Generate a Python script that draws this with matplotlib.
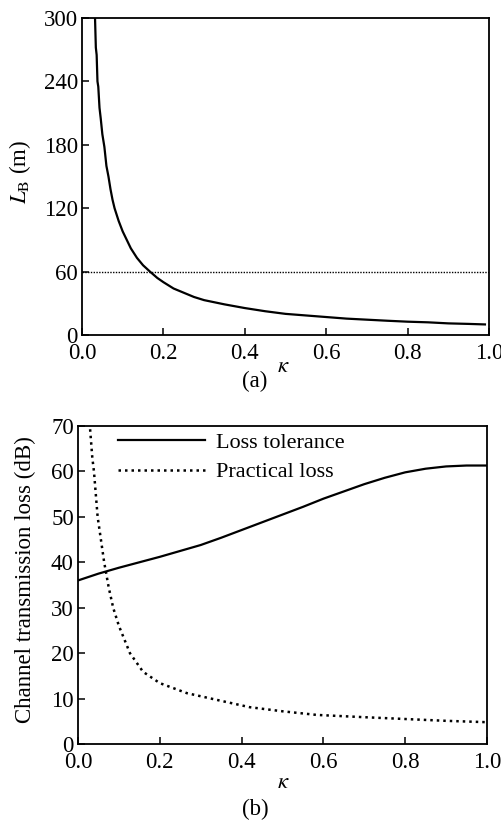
import matplotlib
matplotlib.use("Agg")
import matplotlib.pyplot as plt

plt.rcParams['font.family'] = ['Liberation Serif', 'DejaVu Serif']
plt.rcParams['mathtext.fontset'] = 'stix'

# Panel (a): L_B vs kappa
kappa_a = [0.030, 0.032, 0.034, 0.036, 0.038, 0.040, 0.043, 0.046, 0.050, 0.055,
           0.060, 0.065, 0.070, 0.075, 0.080, 0.090, 0.100, 0.110, 0.120, 0.135,
           0.150, 0.167, 0.185, 0.200, 0.225, 0.250, 0.275, 0.300, 0.350, 0.400,
           0.450, 0.500, 0.550, 0.600, 0.650, 0.700, 0.750, 0.800, 0.850, 0.900,
           0.950, 0.990]
LB = [320, 300, 272, 265, 240, 235, 215, 205, 190, 178,
      160, 150, 138, 128, 120, 108, 98, 90, 82, 73,
      66, 60, 54, 50, 44, 40, 36, 33, 29, 25.5,
      22.5, 20, 18.5, 17, 15.5, 14.5, 13.5, 12.6, 12, 11,
      10.5, 10]
LB_ref = 60

# Panel (b)
kappa_tol = [0.0, 0.05, 0.1, 0.15, 0.2, 0.25, 0.3, 0.35, 0.4, 0.45, 0.5,
             0.55, 0.6, 0.65, 0.7, 0.75, 0.8, 0.85, 0.9, 0.95, 1.0]
loss_tol = [36, 37.5, 38.8, 40, 41.2, 42.5, 43.8, 45.4, 47.1, 48.8, 50.5,
            52.2, 54, 55.6, 57.2, 58.6, 59.8, 60.6, 61.1, 61.3, 61.3]
kappa_pr = [0.027, 0.029, 0.035, 0.039, 0.048, 0.056, 0.064, 0.075, 0.086, 0.1,
            0.127, 0.159, 0.2, 0.266, 0.34, 0.42, 0.5, 0.584, 0.7, 0.8, 0.9, 1.0]
loss_pr = [75, 70, 63, 60, 50, 45, 40, 34.5, 30, 26,
           20, 15.9, 13.4, 11.2, 9.7, 8.1, 7.2, 6.4, 5.9, 5.5, 5.1, 4.8]

xticks = [0.0, 0.2, 0.4, 0.6, 0.8, 1.0]
xticklabels = ['0.0', '0.2', '0.4', '0.6', '0.8', '1.0']
yticks_a = [0, 60, 120, 180, 240, 300]
yticks_b = [0, 10, 20, 30, 40, 50, 60, 70]

W, H = 502, 823
fig = plt.figure(figsize=(W / 100, H / 100), dpi=100)
FS = 16.5

def style(ax):
    for s in ax.spines.values():
        s.set_linewidth(1.3)
    ax.tick_params(direction='in', length=5, width=1.1, labelsize=FS,
                   top=False, right=False)
    ax.tick_params(axis='x', pad=6)
    ax.tick_params(axis='y', pad=3)

def ftext(x, y, s, **kw):
    fig.text(x / W, 1 - y / H, s, fontsize=FS, ha='center', va='center', **kw)

ax1 = fig.add_axes([82 / W, 1 - 335 / H, 407 / W, 317 / H])
ax1.plot(kappa_a, LB, color='black', lw=1.6)
ax1.axhline(LB_ref, color='black', lw=1.0, linestyle=(0, (1, 1)))
ax1.set_xlim(0, 1)
ax1.set_ylim(0, 300)
ax1.set_xticks(xticks)
ax1.set_xticklabels(xticklabels)
ax1.set_yticks(yticks_a)
style(ax1)
ftext(20, 172, r'$L_{\mathrm{B}}$ (m)', rotation=90)
ftext(283, 366, r'$\kappa$')
ftext(255, 381, '(a)')

ax2 = fig.add_axes([78 / W, 1 - 744 / H, 409 / W, 318 / H])
ax2.plot(kappa_tol, loss_tol, color='black', lw=1.6, label='Loss tolerance')
ax2.plot(kappa_pr, loss_pr, color='black', lw=1.8, linestyle=(0, (1, 1.6)),
         label='Practical loss')
ax2.set_xlim(0, 1)
ax2.set_ylim(0, 70)
ax2.set_xticks(xticks)
ax2.set_xticklabels(xticklabels)
ax2.set_yticks(yticks_b)
style(ax2)
ftext(25, 580, 'Channel transmission loss (dB)', rotation=90)
ftext(283, 782, r'$\kappa$')
ftext(255, 809, '(b)')
ax2.legend(loc='upper left', bbox_to_anchor=(0.098, 0.98), frameon=False,
           fontsize=16, handlelength=3.9, handletextpad=0.5, labelspacing=0.4,
           borderpad=0, borderaxespad=0)

fig.savefig('out.png', dpi=100)
